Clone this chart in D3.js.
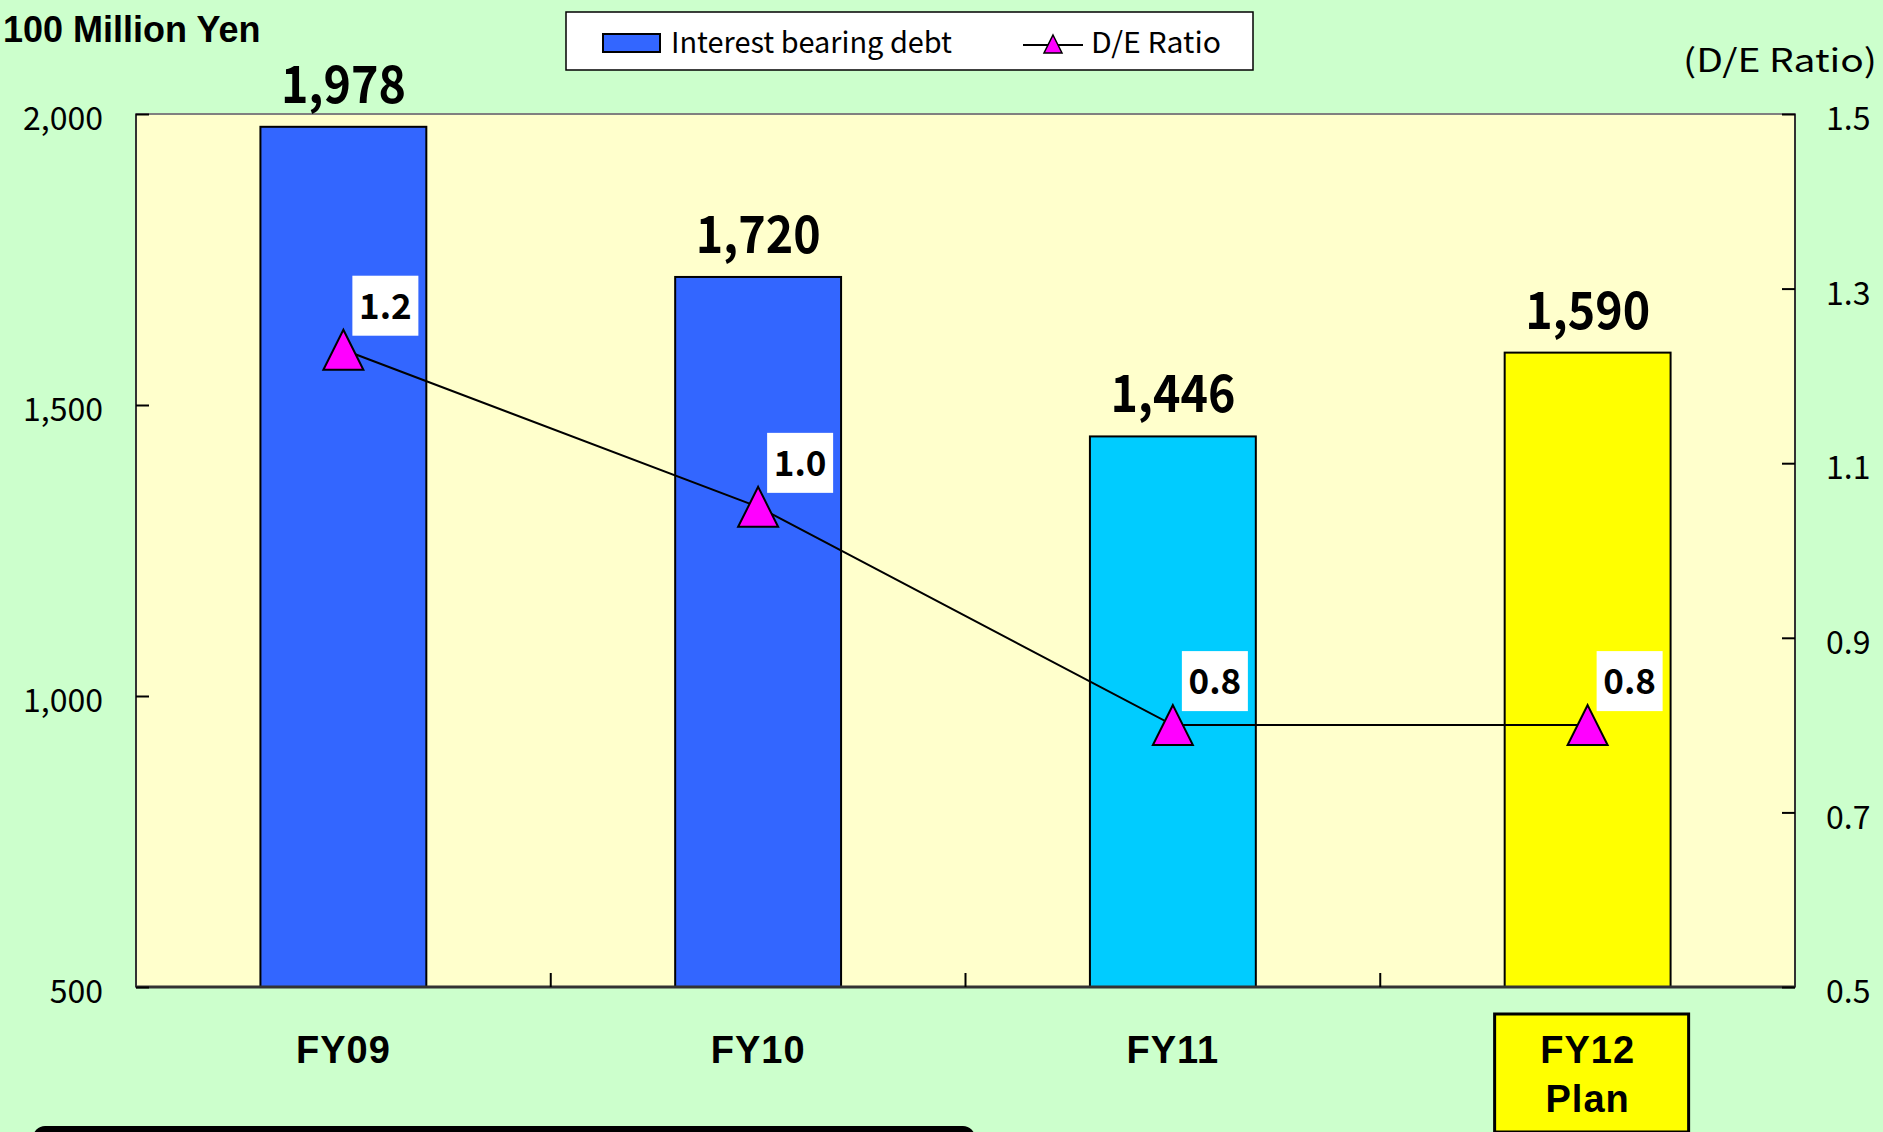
<!DOCTYPE html>
<html>
<head>
<meta charset="utf-8">
<script src="https://cdn.jsdelivr.net/npm/d3@7"></script>
<style>
  body { margin: 0; background: #ccffcc; }
  svg { display: block; }
</style>
</head>
<body>
<div id="vis"></div>
<script>
// data
var categories = ['FY09', 'FY10', 'FY11', 'FY12'];
var xLabels = [['FY09'], ['FY10'], ['FY11'], ['FY12', 'Plan']];
var debt = [1978, 1720, 1446, 1590];
var deRatio = [1.23, 1.05, 0.80, 0.80];
var deLabels = ['1.2', '1.0', '0.8', '0.8'];
var barColours = ['#3366ff', '#3366ff', '#00ccff', '#ffff00'];
var leftTicks = [500, 1000, 1500, 2000];
var rightTicks = [0.5, 0.7, 0.9, 1.1, 1.3, 1.5];

var width = 1883, height = 1132;
var plot = { left: 136, right: 1795, top: 114, bottom: 987 };
var jp = '"Noto Sans CJK JP", "Noto Sans", sans-serif';

var svg = d3.select('#vis')
  .append('svg')
  .attr('width', width)
  .attr('height', height);

svg.append('rect')
  .attr('width', width).attr('height', height)
  .attr('fill', '#ccffcc');

var x_scale = d3.scaleBand()
  .domain(categories)
  .range([plot.left, plot.right])
  .padding(0);

var y_left = d3.scaleLinear()
  .domain([500, 2000])
  .range([plot.bottom, plot.top]);

var y_right = d3.scaleLinear()
  .domain([0.5, 1.5])
  .range([plot.bottom, plot.top]);

// plot background
svg.append('rect')
  .attr('x', plot.left).attr('y', plot.top)
  .attr('width', plot.right - plot.left)
  .attr('height', plot.bottom - plot.top)
  .attr('fill', '#ffffcc')
  .attr('stroke', '#808080')
  .attr('stroke-width', 2);

// bars
var barW = x_scale.bandwidth() * 0.4;
svg.selectAll('.bar')
  .data(debt)
  .enter()
  .append('rect')
  .attr('class', 'bar')
  .attr('x', function(d, i) { return x_scale(categories[i]) + (x_scale.bandwidth() - barW) / 2; })
  .attr('width', barW)
  .attr('y', function(d) { return y_left(d); })
  .attr('height', function(d) { return plot.bottom - y_left(d); })
  .attr('fill', function(d, i) { return barColours[i]; })
  .attr('stroke', '#000')
  .attr('stroke-width', 2);

// axis lines
svg.append('line')
  .attr('x1', plot.left).attr('x2', plot.left)
  .attr('y1', plot.top).attr('y2', plot.bottom)
  .attr('stroke', '#333').attr('stroke-width', 2);
svg.append('line')
  .attr('x1', plot.right).attr('x2', plot.right)
  .attr('y1', plot.top).attr('y2', plot.bottom)
  .attr('stroke', '#333').attr('stroke-width', 2);
svg.append('line')
  .attr('x1', plot.left).attr('x2', plot.right)
  .attr('y1', plot.bottom).attr('y2', plot.bottom)
  .attr('stroke', '#333').attr('stroke-width', 3);

// left axis
var y_axis = d3.axisLeft(y_left)
  .tickValues(leftTicks)
  .tickSize(-13)
  .tickPadding(33)
  .tickFormat(d3.format(','));

var gl = svg.append('g')
  .attr('transform', 'translate(' + plot.left + ',0)')
  .call(y_axis);
gl.select('.domain').remove();
gl.selectAll('line').attr('stroke', '#000').attr('stroke-width', 2);
gl.selectAll('text')
  .attr('dy', '0.49em')
  .style('font-family', jp)
  .style('font-size', '32px')
  .attr('fill', '#000');

// right axis
var y_axis2 = d3.axisRight(y_right)
  .tickValues(rightTicks)
  .tickSize(-13)
  .tickPadding(31)
  .tickFormat(d3.format('.1f'));

var gr = svg.append('g')
  .attr('transform', 'translate(' + plot.right + ',0)')
  .call(y_axis2);
gr.select('.domain').remove();
gr.selectAll('line').attr('stroke', '#000').attr('stroke-width', 2);
gr.selectAll('text')
  .attr('dy', '0.49em')
  .style('font-family', jp)
  .style('font-size', '32px')
  .attr('fill', '#000');

// x ticks at band boundaries
svg.selectAll('.xtick')
  .data(categories.slice(1))
  .enter()
  .append('line')
  .attr('class', 'xtick')
  .attr('x1', function(d) { return x_scale(d); })
  .attr('x2', function(d) { return x_scale(d); })
  .attr('y1', plot.bottom)
  .attr('y2', plot.bottom - 14)
  .attr('stroke', '#000')
  .attr('stroke-width', 2);

// x labels
var cx = function(i) { return x_scale(categories[i]) + x_scale.bandwidth() / 2; };

// box for the plan year
svg.append('rect')
  .attr('x', cx(3) - 93).attr('y', 1014)
  .attr('width', 194).attr('height', 118)
  .attr('fill', '#ffff00')
  .attr('stroke', '#000')
  .attr('stroke-width', 3);

xLabels.forEach(function(lines, i) {
  lines.forEach(function(t, j) {
    svg.append('text')
      .attr('x', cx(i))
      .attr('y', 1063 + j * 49)
      .attr('text-anchor', 'middle')
      .style('font-family', 'Liberation Sans, Arial, sans-serif')
      .style('font-weight', 'bold')
      .style('font-size', '38px')
      .style('letter-spacing', '1px')
      .text(t);
  });
});

// bar value labels
svg.selectAll('.val')
  .data(debt)
  .enter()
  .append('text')
  .attr('class', 'val')
  .attr('x', function(d, i) { return cx(i); })
  .attr('y', function(d) { return y_left(d) - 24; })
  .attr('text-anchor', 'middle')
  .attr('textLength', 125)
  .attr('lengthAdjust', 'spacingAndGlyphs')
  .style('font-family', jp)
  .style('font-weight', 'bold')
  .style('font-size', '52px')
  .text(function(d) { return d3.format(',')(d); });

// D/E line
var line = d3.line()
  .x(function(d, i) { return cx(i); })
  .y(function(d) { return y_right(d); });

svg.append('path')
  .datum(deRatio)
  .attr('d', line)
  .attr('fill', 'none')
  .attr('stroke', '#000')
  .attr('stroke-width', 2);

var tri = function(s) {
  return 'M0,' + (-s) + 'L' + s + ',' + s + 'L' + (-s) + ',' + s + 'Z';
};

svg.selectAll('.marker')
  .data(deRatio)
  .enter()
  .append('path')
  .attr('class', 'marker')
  .attr('transform', function(d, i) { return 'translate(' + cx(i) + ',' + y_right(d) + ')'; })
  .attr('d', tri(20))
  .attr('fill', '#ff00ff')
  .attr('stroke', '#000')
  .attr('stroke-width', 2);

// D/E data labels
var lab = svg.selectAll('.delab')
  .data(deRatio)
  .enter()
  .append('g')
  .attr('class', 'delab')
  .attr('transform', function(d, i) { return 'translate(' + (cx(i) + 42) + ',' + (y_right(d) - 44) + ')'; });

lab.append('rect')
  .attr('x', -33).attr('y', -30)
  .attr('width', 66).attr('height', 60)
  .attr('fill', '#fff');

lab.append('text')
  .attr('y', 13)
  .attr('text-anchor', 'middle')
  .style('font-family', jp)
  .style('font-weight', 'bold')
  .style('font-size', '35px')
  .text(function(d, i) { return deLabels[i]; });

// unit titles
svg.append('text')
  .attr('x', 3).attr('y', 42)
  .style('font-family', 'Liberation Sans, Arial, sans-serif')
  .style('font-weight', 'bold')
  .style('font-size', '36px')
  .text('100 Million Yen');

svg.append('text')
  .attr('x', 1683).attr('y', 72)
  .attr('textLength', 194)
  .attr('lengthAdjust', 'spacingAndGlyphs')
  .style('font-family', jp)
  .style('font-size', '32px')
  .text('(D/E Ratio)');

// legend
var legend = svg.append('g');
legend.append('rect')
  .attr('x', 566).attr('y', 12)
  .attr('width', 687).attr('height', 58)
  .attr('fill', '#fff')
  .attr('stroke', '#000')
  .attr('stroke-width', 1.5);
legend.append('rect')
  .attr('x', 603).attr('y', 34)
  .attr('width', 57).attr('height', 18)
  .attr('fill', '#3366ff')
  .attr('stroke', '#000')
  .attr('stroke-width', 2);
legend.append('text')
  .attr('x', 671).attr('y', 53)
  .attr('textLength', 281)
  .attr('lengthAdjust', 'spacingAndGlyphs')
  .style('font-family', jp)
  .style('font-size', '29px')
  .text('Interest bearing debt');
legend.append('line')
  .attr('x1', 1023).attr('x2', 1083)
  .attr('y1', 45).attr('y2', 45)
  .attr('stroke', '#000').attr('stroke-width', 2);
legend.append('path')
  .attr('transform', 'translate(1053,44)')
  .attr('d', tri(9))
  .attr('fill', '#ff00ff')
  .attr('stroke', '#000')
  .attr('stroke-width', 1.5);
legend.append('text')
  .attr('x', 1091).attr('y', 53)
  .attr('textLength', 130)
  .attr('lengthAdjust', 'spacingAndGlyphs')
  .style('font-family', jp)
  .style('font-size', '29px')
  .text('D/E Ratio');

// cut-off dark strip at the bottom edge
svg.append('rect')
  .attr('x', 33).attr('y', 1126)
  .attr('width', 942).attr('height', 30)
  .attr('rx', 12)
  .attr('fill', '#000');
</script>
</body>
</html>
